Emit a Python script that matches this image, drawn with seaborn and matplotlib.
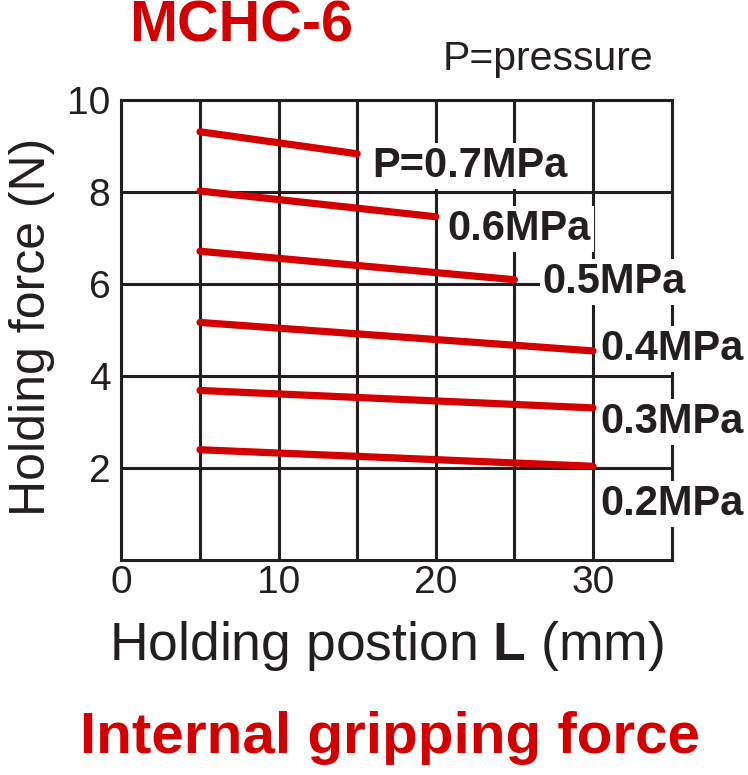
import pandas as pd
import matplotlib
matplotlib.use("Agg")
import matplotlib.pyplot as plt
import seaborn as sns
from matplotlib import font_manager

# =============================
# DATA
# =============================
pressures = ["0.7", "0.6", "0.5", "0.4", "0.3", "0.2"]
start_pos = [5, 5, 5, 5, 5, 5]
end_pos = [15, 20, 25, 30, 30, 30]
start_force = [9.31, 8.02, 6.71, 5.16, 3.68, 2.39]
end_force = [8.83, 7.46, 6.09, 4.54, 3.30, 2.03]
labels = ["P=0.7MPa", "0.6MPa", "0.5MPa", "0.4MPa", "0.3MPa", "0.2MPa"]

x_major = [0, 10, 20, 30]
x_minor = [5, 15, 25]
y_major = [2, 4, 6, 8, 10]

# label placement (data coords, left / baseline)
label_xy = [(15.95, 8.32), (20.75, 6.95), (26.8, 5.80),
            (30.45, 4.34), (30.45, 2.75), (30.45, 0.97)]

RED = "#d20000"
DARK = "#231f20"

# =============================
# STYLE
# =============================
sns.set_theme(style="white")
plt.rcParams["font.family"] = ["Liberation Sans", "DejaVu Sans"]
plt.rcParams["mathtext.fontset"] = "custom"
plt.rcParams["mathtext.rm"] = "Liberation Sans"
plt.rcParams["mathtext.bf"] = "Liberation Sans:bold"

# narrow face for the big caption if it is there, else plain bold
names = {f.name for f in font_manager.fontManager.ttflist}
cap_family = "Liberation Sans Narrow" if "Liberation Sans Narrow" in names else "Liberation Sans"

# long-form table for seaborn
rows = []
for p, x0, x1, y0, y1 in zip(pressures, start_pos, end_pos, start_force, end_force):
    rows.append({"pressure": p, "pos": x0, "force": y0})
    rows.append({"pressure": p, "pos": x1, "force": y1})
df = pd.DataFrame(rows)

fig = plt.figure(figsize=(7.48, 7.75), dpi=100)
ax = fig.add_axes([0.1623, 0.278, 0.7356, 0.5929])

sns.lineplot(data=df, x="pos", y="force", units="pressure", estimator=None,
             color=RED, linewidth=5.2, ax=ax, zorder=3, legend=False)

ax.set_xlim(0, 35)
ax.set_ylim(0, 10)
ax.set_xticks(x_major)
ax.set_xticks(x_minor, minor=True)
ax.set_yticks(y_major)
ax.grid(which="both", color=DARK, linewidth=2.2)
ax.set_axisbelow(True)
ax.tick_params(which="both", length=0, labelsize=28, colors=DARK)
ax.tick_params(axis="x", pad=4)
ax.tick_params(axis="y", pad=8)
for s in ax.spines.values():
    s.set_visible(True)
    s.set_color(DARK)
    s.set_linewidth(2.2)

ax.set_xlabel(r"Holding postion $\mathbf{L}$ (mm)", fontsize=38.5, color=DARK)
ax.xaxis.label.set_va("baseline")
ax.xaxis.set_label_coords(0.481, -0.2187)
ax.set_ylabel("Holding force (N)", fontsize=36, color=DARK)
ax.yaxis.label.set_va("baseline")
ax.yaxis.set_label_coords(-0.139, 0.506)

for lab, (lx, ly) in zip(labels, label_xy):
    ax.text(lx, ly, lab, fontsize=30, fontweight="bold", color=DARK,
            ha="left", va="baseline", zorder=5,
            bbox=dict(facecolor="white", edgecolor="none", pad=2))

fig.text(241 / 748, 1 - 42 / 775, "MCHC-6", fontsize=41.5, fontweight="bold",
         color=RED, ha="center", va="baseline")
fig.text(443 / 748, 1 - 70 / 775, "P=pressure", fontsize=29.5, color=DARK,
         ha="left", va="baseline")

bottom = fig.text(390 / 748, 1 - 753 / 775, "Internal gripping force",
                  fontsize=60, fontweight="bold", family=cap_family, color=RED,
                  ha="center", va="baseline")
fig.canvas.draw()
w = bottom.get_window_extent(fig.canvas.get_renderer()).width
bottom.set_fontsize(min(60 * 620 / w, 72))

fig.savefig("out.png", dpi=100)
